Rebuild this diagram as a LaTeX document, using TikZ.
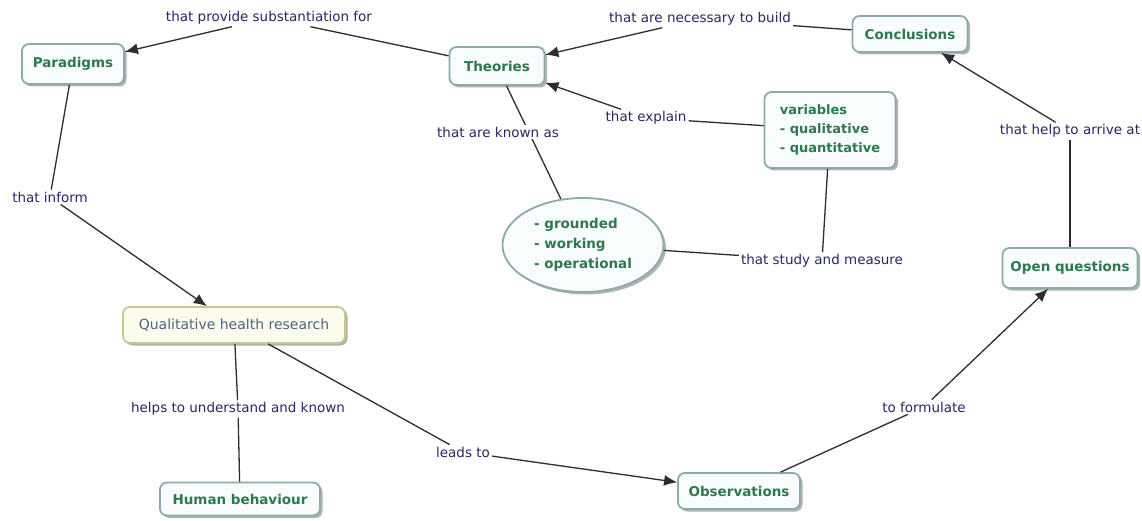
\documentclass[tikz,border=0pt]{standalone}
\usepackage{fontspec}
\setmainfont{DejaVu Sans}
\usetikzlibrary{arrows.meta,shapes.geometric,shadows}
\definecolor{boxtext}{RGB}{45,120,80}
\definecolor{labtext}{RGB}{40,40,100}
\definecolor{boxborder}{RGB}{140,170,170}
\definecolor{boxfill}{RGB}{248,252,252}
\definecolor{qfill}{RGB}{252,252,238}
\definecolor{qborder}{RGB}{200,200,140}
\definecolor{qtext}{RGB}{80,100,125}
\definecolor{linecol}{RGB}{45,45,45}
\begin{document}
\begin{tikzpicture}[x=1pt,y=-1pt,
  concept/.style={draw=boxborder, line width=1.8pt, fill=boxfill, rounded corners=7pt,
    text=boxtext, font=\fontsize{13.5}{16}\selectfont\bfseries, inner xsep=8pt,
    drop shadow={shadow xshift=2.5pt, shadow yshift=-2.5pt, fill=black!30, opacity=1}},
  lab/.style={text=labtext, font=\fontsize{13.5}{16}\selectfont, inner sep=2pt},
  link/.style={draw=linecol, line width=1.3pt},
  arr/.style={link, -{Latex[length=13pt,width=11pt]}}]
\useasboundingbox (0,0) rectangle (1142,521);
\fill[white] (0,0) rectangle (1142,521);

% concepts
\node[concept, minimum width=102pt, minimum height=40pt] (para) at (73,64) {Paradigms};
\node[concept, minimum width=95pt, minimum height=38pt] (theo) at (497,66) {Theories};
\node[concept, minimum width=115pt, minimum height=36pt] (conc) at (910,34) {Conclusions};
\node[concept, minimum width=131pt, minimum height=76pt, align=left, font=\fontsize{13}{19}\selectfont\bfseries] (vars) at (830,130) {variables\\- qualitative\\- quantitative};
\node[concept, ellipse, rounded corners=0pt, minimum width=156pt, minimum height=94pt, align=left, font=\fontsize{13.5}{20}\selectfont\bfseries] (ell) at (583,245) {- grounded\\- working\\- operational};
\node[concept, minimum width=135pt, minimum height=40pt] (open) at (1070,268) {Open questions};
\node[concept, draw=qborder, fill=qfill, text=qtext, font=\fontsize{14}{16}\selectfont, minimum width=222pt, minimum height=36pt] (qhr) at (234,325) {Qualitative health research};
\node[concept, minimum width=160pt, minimum height=33pt] (hum) at (240,499) {Human behaviour};
\node[concept, minimum width=122pt, minimum height=36pt] (obs) at (739,491) {Observations};

% line passing behind a label
\draw[link] (theo) -- (ell);

% labels
\node[lab] (lprov) at (269,18) {that provide substantiation for};
\node[lab] (lnec) at (700,19) {that are necessary to build};
\node[lab] (lexp) at (646,118) {that explain};
\node[lab, fill=white] (lknown) at (498,132) {that are known as};
\node[lab] (larr) at (1070,131) {that help to arrive at};
\node[lab] (linf) at (50,197) {that inform};
\node[lab] (lstudy) at (822,261) {that study and measure};
\node[lab] (lhelp) at (238,409) {helps to understand and known};
\node[lab] (llead) at (463,452) {leads to};
\node[lab] (lform) at (924,407) {to formulate};

% connectors
\draw[link] (theo) -- (lprov);
\draw[arr] (lprov) -- (para);
\draw[link] (conc) -- (lnec);
\draw[arr] (lnec) -- (theo);
\draw[link] (vars) -- (lexp);
\draw[arr] (lexp) -- (theo);
\draw[link] (ell) -- (lstudy);
\draw[link] (vars) -- (lstudy);
\draw[link] (open) -- (larr);
\draw[arr] (larr) -- (conc);
\draw[link] (para) -- (linf);
\draw[arr] (linf) -- (qhr);
\draw[link] (qhr) -- (lhelp);
\draw[link] (lhelp) -- (hum);
\draw[link] (qhr) -- (llead);
\draw[arr] (llead) -- (obs);
\draw[link] (obs) -- (lform);
\draw[arr] (lform) -- (open);
\end{tikzpicture}
\end{document}
